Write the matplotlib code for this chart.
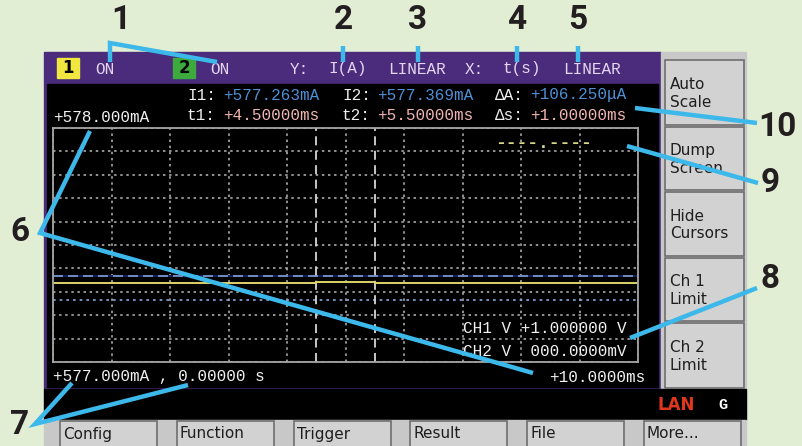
import numpy as np
import matplotlib
matplotlib.use('Agg')
import matplotlib.pyplot as plt
from matplotlib.patches import Rectangle

# trace (channel 1 current)
trace_t_ms = [0.0, 4.5, 5.5, 10.0]
trace_i_ma = [577.337, 577.344, 577.337, 577.337]

# cursors
cursor_t_ms = [4.5, 5.5]
cursor_i_ma = [577.263, 577.369]

# axis range
x_range_ms = [0.0, 10.0]
y_range_ma = [577.0, 578.0]

header_texts = ['ON', 'ON', 'Y:', 'I(A)', 'LINEAR', 'X:', 't(s)', 'LINEAR']
cursor_labels = ['I1:', 'I2:', '\u0394A:', 't1:', 't2:', '\u0394s:']
cursor_values = ['+577.263mA', '+577.369mA', '+106.250\u03bcA',
                 '+4.50000ms', '+5.50000ms', '+1.00000ms']
side_buttons = ['Auto\nScale', 'Dump\nScreen', 'Hide\nCursors', 'Ch 1\nLimit', 'Ch 2\nLimit']
bottom_buttons = ['Config', 'Function', 'Trigger', 'Result', 'File', 'More...']
callout_numbers = ['1', '2', '3', '4', '5', '6', '7', '8', '9', '10']

W, H = 803, 446
BG = '#e2eed3'
PURPLE = '#4a2b7c'
PANEL = '#c8c8c8'
BTN = '#d2d2d2'
CYAN = '#3cb8ea'
MONO = 'Liberation Mono'

fig = plt.figure(figsize=(W / 100, H / 100), dpi=100)
fig.patch.set_facecolor(BG)

# background / instrument body in pixel coordinates
bg = fig.add_axes([0, 0, 1, 1], zorder=0)
bg.set_xlim(0, W)
bg.set_ylim(H, 0)
bg.axis('off')

bg.add_patch(Rectangle((44, 52), 617, 337, color=PURPLE))
bg.add_patch(Rectangle((47, 84), 611, 303, color='black'))
bg.add_patch(Rectangle((661, 52), 85, 338, color=PANEL))
bg.add_patch(Rectangle((44, 389), 702, 31, color='black'))
bg.add_patch(Rectangle((44, 420), 702, 26, color=PANEL))

# header
bg.add_patch(Rectangle((57, 58), 22, 20, color='#f0e83e'))
bg.text(68, 68, '1', ha='center', va='center', fontsize=12, color='black',
        family='DejaVu Sans', fontweight='bold')
bg.add_patch(Rectangle((173, 58), 22, 20, color='#3daa3d'))
bg.text(184, 68, '2', ha='center', va='center', fontsize=12, color='black',
        family='DejaVu Sans', fontweight='bold')
header_x = [95, 210, 290, 328, 388, 465, 503, 563]
for x, s in zip(header_x, header_texts):
    bg.text(x, 69, s, ha='left', va='center', fontsize=11.5, color='#e4d6ee', family=MONO)

# cursor readouts
lab_x = [187, 342, 495, 187, 342, 495]
val_x = [223, 377, 530, 223, 377, 530]
row_y = [95, 95, 95, 116, 116, 116]
for i in range(6):
    vcol = '#4f8fd6' if i < 3 else '#f0b4b0'
    bg.text(lab_x[i], row_y[i], cursor_labels[i], ha='left', va='center',
            fontsize=11.5, color='#eeeeee', family=MONO)
    bg.text(val_x[i], row_y[i], cursor_values[i], ha='left', va='center',
            fontsize=11.5, color=vcol, family=MONO)

bg.text(53, 117, '+578.000mA', ha='left', va='center', fontsize=11.5, color='#f0f0f0', family=MONO)
bg.text(53, 377, '+577.000mA , 0.00000 s', ha='left', va='center', fontsize=11.5,
        color='#f0f0f0', family=MONO)
bg.text(645, 377, '+10.0000ms', ha='right', va='center', fontsize=11.5, color='#f0f0f0', family=MONO)

# side buttons
side_top = [60, 127, 192, 258, 323]
side_bot = [125, 190, 256, 321, 388]
for s, t0, t1 in zip(side_buttons, side_top, side_bot):
    bg.add_patch(Rectangle((665, t0), 79, t1 - t0, facecolor=BTN, edgecolor='#6e6e6e', lw=1.2))
    bg.text(670, (t0 + t1) / 2 + 1, s, ha='left', va='center', fontsize=11,
            color='#1e1e1e', family='DejaVu Sans', linespacing=1.2)

# bottom buttons
for k, s in enumerate(bottom_buttons):
    x0 = 60 + k * 116.8
    bg.add_patch(Rectangle((x0, 421), 97, 30, facecolor=BTN, edgecolor='#6e6e6e', lw=1.2))
    bg.text(x0 + 3, 434, s, ha='left', va='center', fontsize=11, color='#1e1e1e', family='DejaVu Sans')

bg.text(658, 405, 'LAN', ha='left', va='center', fontsize=12, color='#e0361e',
        family='DejaVu Sans', fontweight='bold')
bg.text(718, 405, 'G', ha='left', va='center', fontsize=11, color='white',
        family=MONO, fontweight='bold')

# plot area
ax = fig.add_axes([53 / W, (H - 362) / H, 585 / W, 234 / H], zorder=1)
ax.set_facecolor('black')
ax.set_xlim(x_range_ms)
ax.set_ylim(y_range_ma)
ax.set_xticks(np.linspace(x_range_ms[0], x_range_ms[1], 11))
ax.set_yticks(np.linspace(y_range_ma[0], y_range_ma[1], 11))
ax.tick_params(length=0, labelbottom=False, labelleft=False)
ax.grid(True, color='#b8b8b8', lw=1.1, linestyle=(0, (1.6, 2.4)))
for sp in ax.spines.values():
    sp.set_color('#a6a6a6')
    sp.set_linewidth(1.3)

# cursors
ax.axhline(cursor_i_ma[1], color='#16205a', lw=1.4)
ax.axhline(cursor_i_ma[1], color='#7e9fd2', lw=1.2, linestyle=(0, (6, 3)))
ax.axhline(cursor_i_ma[0], color='#86a8dc', lw=1.2, linestyle=(0, (1.6, 2.4)))
for t in cursor_t_ms:
    ax.axvline(t, color='#d6d6d6', lw=1.3, linestyle=(0, (5, 3)))

ax.plot(trace_t_ms, trace_i_ma, drawstyle='steps-post', color='#dcd36a', lw=1.4)

ax.text(0.755, 0.935, '----.----', transform=ax.transAxes, ha='left', va='center',
        fontsize=13, color='#d8d98a', family=MONO, fontweight='bold')
ax.text(0.980, 0.145, 'CH1 V +1.000000 V', transform=ax.transAxes, ha='right', va='center',
        fontsize=11.5, color='#f0f0f0', family=MONO)
ax.text(0.980, 0.047, 'CH2 V  000.0000mV', transform=ax.transAxes, ha='right', va='center',
        fontsize=11.5, color='#f0f0f0', family=MONO)

# callouts on top
top = fig.add_axes([0, 0, 1, 1], zorder=2)
top.set_xlim(0, W)
top.set_ylim(H, 0)
top.axis('off')
top.patch.set_alpha(0)

lines = [
    [(110, 62), (110, 43), (217, 62)],
    [(343, 46), (343, 62)],
    [(418, 46), (418, 62)],
    [(517, 46), (517, 62)],
    [(578, 46), (578, 62)],
    [(90, 131), (40, 233), (533, 373)],
    [(72, 383), (35, 424), (188, 385)],
    [(630, 338), (757, 288)],
    [(627, 146), (758, 183)],
    [(635, 108), (757, 123)],
]
for pts in lines:
    xs, ys = zip(*pts)
    top.plot(xs, ys, color=CYAN, lw=3.2, solid_capstyle='butt', solid_joinstyle='miter')

num_pos = [(121, 20), (343, 20), (418, 20), (517, 20), (578, 20),
           (20, 232), (20, 425), (770, 279), (770, 183), (777, 127)]
for s, (x, y) in zip(callout_numbers, num_pos):
    top.text(x, y, s, ha='center', va='center', fontsize=24, fontweight='bold',
             color='#231f20', family='Roboto')

fig.savefig('out.png', dpi=100, facecolor=BG)
